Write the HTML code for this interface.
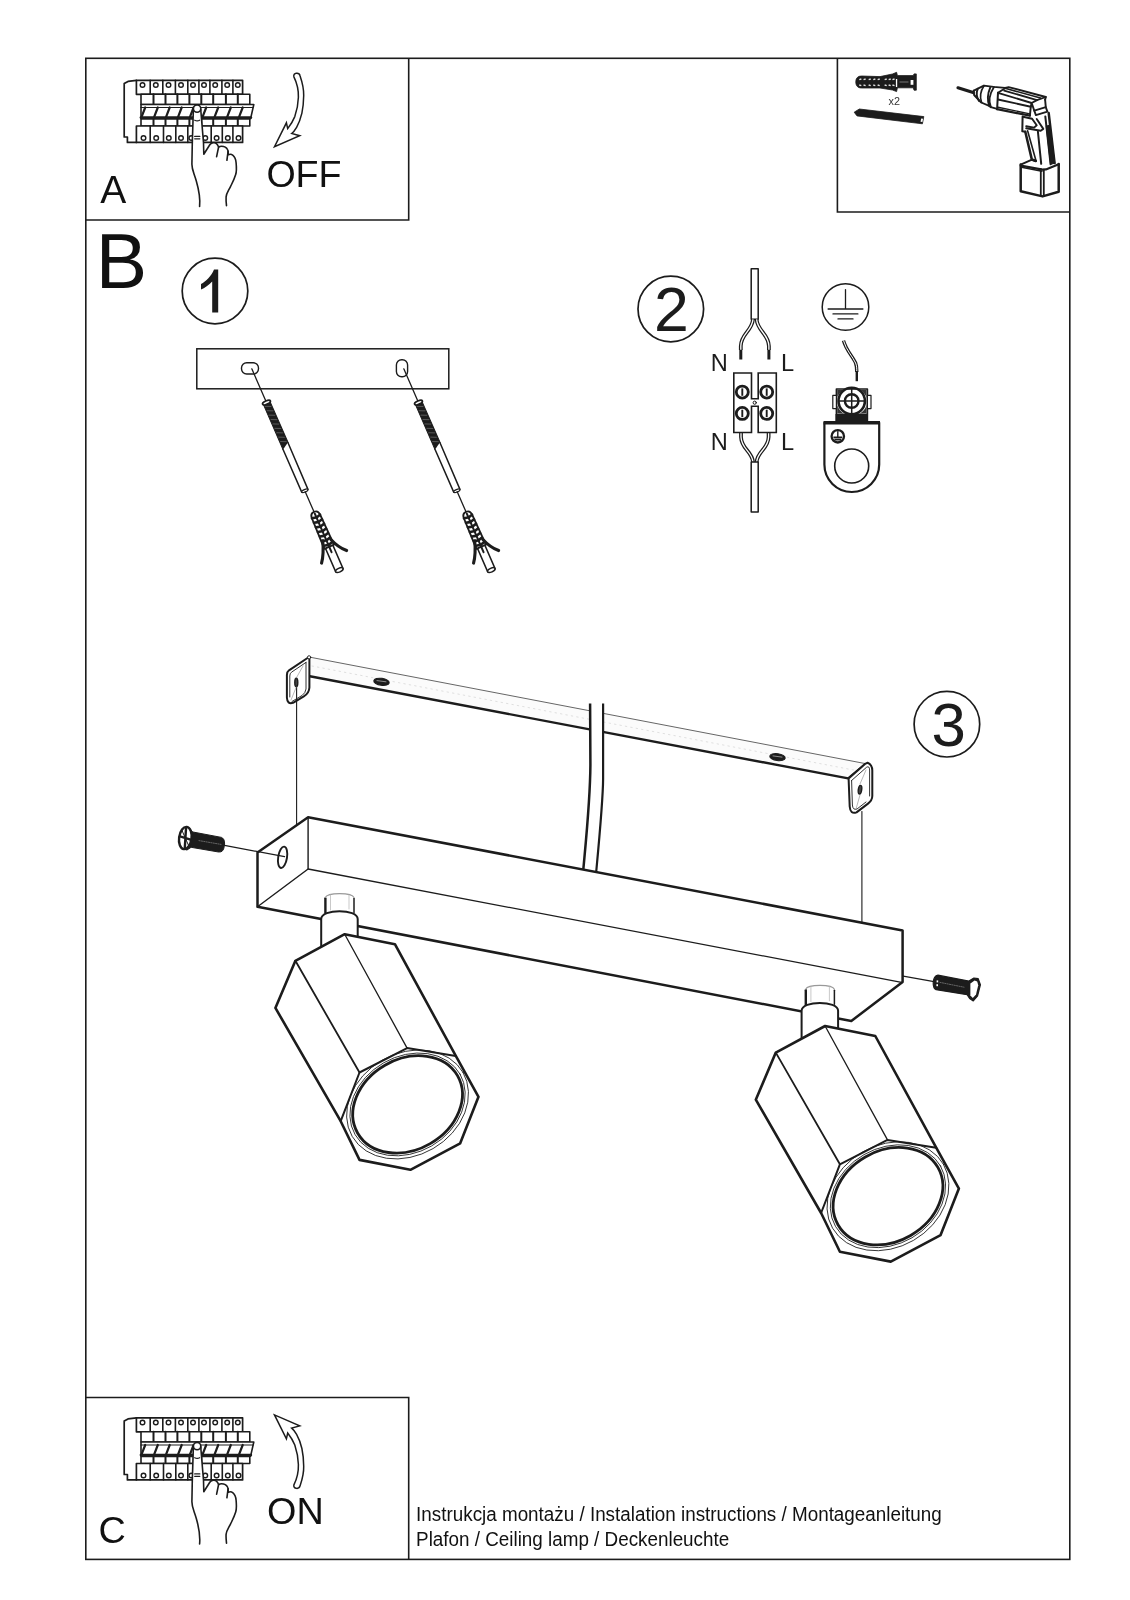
<!DOCTYPE html>
<html><head><meta charset="utf-8"><title>Instrukcja montażu</title>
<style>html,body{margin:0;padding:0;background:#fff}svg{display:block}</style></head>
<body>
<svg width="1130" height="1600" viewBox="0 0 1130 1600">
<rect width="1130" height="1600" fill="#fff"/>
<defs>
<g id="brk" fill="none" stroke="#1c1c1c" stroke-width="1.5" stroke-linejoin="round" stroke-linecap="round">
<path d="M136.4,80.3 L128,81.4 L124.2,83.6 L124.2,137 L127.4,137 L127.4,142.4 L136.4,142.4" stroke-width="1.7"/>
<rect x="136.4" y="80.3" width="106.2" height="14" fill="#fff" stroke-width="1.7"/>
<line x1="150.2" y1="80.3" x2="150.2" y2="94.3" stroke-width="1.6"/>
<line x1="162.8" y1="80.3" x2="162.8" y2="94.3" stroke-width="1.6"/>
<line x1="175.4" y1="80.3" x2="175.4" y2="94.3" stroke-width="1.6"/>
<line x1="187.8" y1="80.3" x2="187.8" y2="94.3" stroke-width="1.6"/>
<line x1="198.9" y1="80.3" x2="198.9" y2="94.3" stroke-width="1.6"/>
<line x1="209.9" y1="80.3" x2="209.9" y2="94.3" stroke-width="1.6"/>
<line x1="221.9" y1="80.3" x2="221.9" y2="94.3" stroke-width="1.6"/>
<line x1="232.9" y1="80.3" x2="232.9" y2="94.3" stroke-width="1.6"/>
<circle cx="142.5" cy="85" r="2.3" stroke-width="1.4"/>
<circle cx="155.8" cy="85" r="2.3" stroke-width="1.4"/>
<circle cx="168.5" cy="85" r="2.3" stroke-width="1.4"/>
<circle cx="181.0" cy="85" r="2.3" stroke-width="1.4"/>
<circle cx="193.0" cy="85" r="2.3" stroke-width="1.4"/>
<circle cx="204.0" cy="85" r="2.3" stroke-width="1.4"/>
<circle cx="215.2" cy="85" r="2.3" stroke-width="1.4"/>
<circle cx="227.2" cy="85" r="2.3" stroke-width="1.4"/>
<circle cx="237.8" cy="85" r="2.3" stroke-width="1.4"/>
<rect x="141" y="94.3" width="108.8" height="10.2" fill="#fff" stroke-width="1.6"/>
<line x1="153.5" y1="94.3" x2="153.5" y2="104.5" stroke-width="2"/>
<line x1="165.5" y1="94.3" x2="165.5" y2="104.5" stroke-width="2"/>
<line x1="177.4" y1="94.3" x2="177.4" y2="104.5" stroke-width="2"/>
<line x1="189.4" y1="94.3" x2="189.4" y2="104.5" stroke-width="2"/>
<line x1="201.3" y1="94.3" x2="201.3" y2="104.5" stroke-width="2"/>
<line x1="213.2" y1="94.3" x2="213.2" y2="104.5" stroke-width="2"/>
<line x1="225.9" y1="94.3" x2="225.9" y2="104.5" stroke-width="2"/>
<line x1="237.8" y1="94.3" x2="237.8" y2="104.5" stroke-width="2"/>
<path d="M141,104.5 L253.8,104.5 L250.6,118.6 L141,118.6 Z" fill="#fff" stroke-width="1.6"/>
<line x1="141" y1="107.5" x2="253" y2="107.5" stroke-width="1.2"/>
<line x1="145.2" y1="107.5" x2="141.6" y2="116.8" stroke-width="2.2"/>
<line x1="157.8" y1="107.5" x2="154.2" y2="116.8" stroke-width="2.2"/>
<line x1="169.7" y1="107.5" x2="166.1" y2="116.8" stroke-width="2.2"/>
<line x1="181.7" y1="107.5" x2="178.1" y2="116.8" stroke-width="2.2"/>
<line x1="193.6" y1="107.5" x2="190.0" y2="116.8" stroke-width="2.2"/>
<line x1="206.2" y1="107.5" x2="202.6" y2="116.8" stroke-width="2.2"/>
<line x1="218.2" y1="107.5" x2="214.6" y2="116.8" stroke-width="2.2"/>
<line x1="230.8" y1="107.5" x2="227.2" y2="116.8" stroke-width="2.2"/>
<line x1="242.7" y1="107.5" x2="239.1" y2="116.8" stroke-width="2.2"/>
<line x1="141" y1="117.6" x2="250.8" y2="117.6" stroke-width="2.8"/>
<rect x="141" y="119" width="108.8" height="7" fill="#fff" stroke-width="1.6"/>
<line x1="153.5" y1="119" x2="153.5" y2="126" stroke-width="2"/>
<line x1="165.5" y1="119" x2="165.5" y2="126" stroke-width="2"/>
<line x1="177.4" y1="119" x2="177.4" y2="126" stroke-width="2"/>
<line x1="189.4" y1="119" x2="189.4" y2="126" stroke-width="2"/>
<line x1="201.3" y1="119" x2="201.3" y2="126" stroke-width="2"/>
<line x1="213.2" y1="119" x2="213.2" y2="126" stroke-width="2"/>
<line x1="225.9" y1="119" x2="225.9" y2="126" stroke-width="2"/>
<line x1="237.8" y1="119" x2="237.8" y2="126" stroke-width="2"/>
<rect x="136.4" y="126" width="106.2" height="16.4" fill="#fff" stroke-width="1.7"/>
<line x1="150.2" y1="126" x2="150.2" y2="142.4" stroke-width="1.6"/>
<line x1="163.5" y1="126" x2="163.5" y2="142.4" stroke-width="1.6"/>
<line x1="175.8" y1="126" x2="175.8" y2="142.4" stroke-width="1.6"/>
<line x1="187.8" y1="126" x2="187.8" y2="142.4" stroke-width="1.6"/>
<line x1="200.0" y1="126" x2="200.0" y2="142.4" stroke-width="1.6"/>
<line x1="211.2" y1="126" x2="211.2" y2="142.4" stroke-width="1.6"/>
<line x1="222.3" y1="126" x2="222.3" y2="142.4" stroke-width="1.6"/>
<line x1="232.9" y1="126" x2="232.9" y2="142.4" stroke-width="1.6"/>
<circle cx="143.5" cy="138" r="2.3" stroke-width="1.4"/>
<circle cx="156.2" cy="138" r="2.3" stroke-width="1.4"/>
<circle cx="168.8" cy="138" r="2.3" stroke-width="1.4"/>
<circle cx="181.0" cy="138" r="2.3" stroke-width="1.4"/>
<circle cx="191.3" cy="138" r="2.3" stroke-width="1.4"/>
<circle cx="205.3" cy="138" r="2.3" stroke-width="1.4"/>
<circle cx="216.6" cy="138" r="2.3" stroke-width="1.4"/>
<circle cx="227.8" cy="138" r="2.3" stroke-width="1.4"/>
<circle cx="238.5" cy="138" r="2.3" stroke-width="1.4"/>
<path d="M199.6,206.5 C200.3,199 199.5,192 196.3,181 C194,173 191.9,170 191.9,164.3 L192.3,142.8 L193.3,111.5 A3.9,3.9 0 1 1 200.9,111.5 L203.5,142.8 L203.8,154.3 L209.8,144.8 C211.5,142.3 216.4,141.3 218.6,147 C220.5,145.8 226.8,145.3 228.1,151.2 L228.2,154.8 C231,153.2 235.5,155 236.1,162.7 C236.6,168 236.5,172 235.7,174.6 C234,180 232,183.5 230.5,186.6 C228,191.5 226.3,193.5 226.1,196.9 C225.9,200 226.2,203 226.5,205.7 Z" fill="#fff" stroke="none"/>
<path d="M199.6,206.5 C200.3,199 199.5,192 196.3,181 C194,173 191.9,170 191.9,164.3 L192.3,142.8 L193.3,111.5 A3.9,3.9 0 1 1 200.9,111.5 L203.5,142.8 L203.8,154.3 L209.8,144.8 C211.5,142.3 216.4,141.3 218.6,147 C220.5,145.8 226.8,145.3 228.1,151.2 L228.2,154.8 C231,153.2 235.5,155 236.1,162.7 C236.6,168 236.5,172 235.7,174.6 C234,180 232,183.5 230.5,186.6 C228,191.5 226.3,193.5 226.1,196.9 C225.9,200 226.2,203 226.5,205.7" stroke-width="1.6"/>
<path d="M218.6,147 L216.6,156.7 M228.1,151.2 L226.9,160.3" stroke-width="1.6"/>
<circle cx="197.1" cy="108.6" r="3.7" fill="#fff" stroke-width="1.6"/>
<path d="M194.7,120.2 Q197.2,121.6 199.6,120.2" stroke-width="1.2"/>
<path d="M194.7,136.4 L199.8,136.4 M194.7,138.8 L199.8,138.8" stroke-width="1.3"/>
</g>
<path id="arw" d="M293.9,76.8 C292.8,72.6 299.2,71.8 300.1,75.9 C302.5,83 303.9,89 303.7,95.4 C303.6,102 303,108 301.9,113.1 C300.5,119 298.5,124 296.6,127.3 C295,130 293.5,132 291.7,133.5 L299.7,135.7 L274.5,146.7 L286.4,122.8 L287.7,128.6 C290.5,125 293,121 294.8,116.6 C297,110 298.2,104 298.4,97.2 C298.6,90 297,83 293.9,76.8 Z" fill="#fff" stroke="#1c1c1c" stroke-width="1.5" stroke-linejoin="miter"/>
<filter id="noaa" x="-5%" y="-20%" width="110%" height="140%"><feOffset dx="0" dy="0"/></filter>
</defs>
<g fill="none" stroke="#1c1c1c" stroke-width="1.6">
<rect x="85.8" y="58.3" width="984" height="1501.1"/>
<path d="M408.7,58.3 L408.7,220 L85.8,220"/>
<path d="M837.4,58.3 L837.4,212 L1069.8,212"/>
<path d="M85.8,1397.5 L408.7,1397.5 L408.7,1559.4"/>
</g>
<use href="#brk"/>
<use href="#brk" transform="translate(0,1337.5)"/>
<use href="#arw"/>
<use href="#arw" transform="translate(0,1561.6) scale(1,-1)"/>
<g fill="#111" font-family="'Liberation Sans',sans-serif">
<text filter="url(#noaa)" x="100.3" y="203.1" font-size="39">A</text>
<text filter="url(#noaa)" x="266.4" y="187.4" font-size="37.6">OFF</text>
<text filter="url(#noaa)" x="98.5" y="1543.1" font-size="37.8">C</text>
<text filter="url(#noaa)" x="267" y="1524.4" font-size="37.8">ON</text>
<text filter="url(#noaa)" x="95.8" y="287.9" font-size="77">B</text>
<text filter="url(#noaa)" transform="translate(416.1,1520.7) scale(1,1.04)" font-size="18.84">Instrukcja montażu / Instalation instructions / Montageanleitung</text>
<text filter="url(#noaa)" transform="translate(416.1,1545.9) scale(1,1.04)" font-size="18.84">Plafon / Ceiling lamp / Deckenleuchte</text>
</g>
<g id="tools">
<path d="M855.8,81.9 C855.8,78 858,76 861.5,76 L880,76.6 L892.5,74 L896.6,72.3 L897.4,75.6 L913.3,75.6 L914,73.9 L916.3,73.9 L916.3,90.2 L914,90.2 L913.3,87.8 L897.4,87.8 L896.6,91.6 L892.5,90 L880,88 L861.5,88 C858,88 855.8,86 855.8,81.9 Z" fill="#1c1c1c" stroke="#1c1c1c" stroke-width="0.8" stroke-linejoin="round"/>
<rect x="859.2" y="78.6" width="2.2" height="1.5" fill="#fff" opacity="0.85" transform="rotate(-18 860.2 79.3)"/>
<rect x="859.2" y="84.5" width="2.2" height="1.5" fill="#fff" opacity="0.85" transform="rotate(18 860.2 85.2)"/>
<rect x="863.5" y="78.6" width="2.2" height="1.5" fill="#fff" opacity="0.85" transform="rotate(-18 864.5 79.3)"/>
<rect x="863.5" y="84.5" width="2.2" height="1.5" fill="#fff" opacity="0.85" transform="rotate(18 864.5 85.2)"/>
<rect x="868.6" y="78.6" width="2.2" height="1.5" fill="#fff" opacity="0.85" transform="rotate(-18 869.6 79.3)"/>
<rect x="868.6" y="84.5" width="2.2" height="1.5" fill="#fff" opacity="0.85" transform="rotate(18 869.6 85.2)"/>
<rect x="873.2" y="78.6" width="2.2" height="1.5" fill="#fff" opacity="0.85" transform="rotate(-18 874.2 79.3)"/>
<rect x="873.2" y="84.5" width="2.2" height="1.5" fill="#fff" opacity="0.85" transform="rotate(18 874.2 85.2)"/>
<rect x="877.6" y="78.6" width="2.2" height="1.5" fill="#fff" opacity="0.85" transform="rotate(-18 878.6 79.3)"/>
<rect x="877.6" y="84.5" width="2.2" height="1.5" fill="#fff" opacity="0.85" transform="rotate(18 878.6 85.2)"/>
<rect x="884.6" y="78.6" width="2.2" height="1.5" fill="#fff" opacity="0.85" transform="rotate(-18 885.6 79.3)"/>
<rect x="884.6" y="84.5" width="2.2" height="1.5" fill="#fff" opacity="0.85" transform="rotate(18 885.6 85.2)"/>
<rect x="888.6" y="78.6" width="2.2" height="1.5" fill="#fff" opacity="0.85" transform="rotate(-18 889.6 79.3)"/>
<rect x="888.6" y="84.5" width="2.2" height="1.5" fill="#fff" opacity="0.85" transform="rotate(18 889.6 85.2)"/>
<rect x="892.4" y="78.6" width="2.2" height="1.5" fill="#fff" opacity="0.85" transform="rotate(-18 893.4 79.3)"/>
<rect x="892.4" y="84.5" width="2.2" height="1.5" fill="#fff" opacity="0.85" transform="rotate(18 893.4 85.2)"/>
<rect x="895.9" y="79" width="1.3" height="8" fill="#fff"/>
<rect x="910.6" y="80" width="2.8" height="4.8" fill="#fff"/>
<rect x="899.5" y="81.2" width="9" height="1.6" fill="#555"/>
<path d="M854.2,112.2 L859.3,109 L923.8,116.6 L922.4,123.8 L857,115.9 Z" fill="#1c1c1c" stroke="#1c1c1c" stroke-width="0.8" stroke-linejoin="round"/>
<path d="M921.2,118.4 L923.1,118.7 L922.4,122.1 L920.5,121.8 Z" fill="#fff"/>
<text filter="url(#noaa)" x="888.6" y="105.4" font-size="10.8" fill="#333" font-family="'Liberation Sans',sans-serif">x2</text>
<path d="M958.0,87.8 L973.1,92.5" fill="none" stroke="#1c1c1c" stroke-width="3.2" stroke-linejoin="round" stroke-linecap="round"/>
<path d="M973.8,90.6 L983.9,85.6 L993.6,86.9 L1005.1,87.9 L1008.6,87.1 L1045.8,97.0 L1045.1,99.7" fill="none" stroke="#1c1c1c" stroke-width="1.9" stroke-linejoin="round" stroke-linecap="round"/>
<path d="M973.8,90.6 L974.1,95.0 L981.2,102.5 L989.2,105.9 L990.9,107.2 L997.1,108.9" fill="none" stroke="#1c1c1c" stroke-width="1.9" stroke-linejoin="round" stroke-linecap="round"/>
<path d="M977.8,88.7 Q975.2,95.0 979.0,101.0" fill="none" stroke="#1c1c1c" stroke-width="1.9" stroke-linecap="round"/>
<path d="M990.2,87.7 Q986.1,97.2 989.3,105.9" fill="none" stroke="#1c1c1c" stroke-width="1.9" stroke-linecap="round"/>
<path d="M984.0,85.7 Q978.5,94.1 981.6,102.5" fill="none" stroke="#1c1c1c" stroke-width="1.6" stroke-linecap="round"/>
<path d="M994.0,87.1 Q987.0,98.1 990.9,107.2" fill="none" stroke="#1c1c1c" stroke-width="1.8" stroke-linecap="round"/>
<path d="M998.0,92.8 L997.1,109.2" fill="none" stroke="#1c1c1c" stroke-width="2.0" stroke-linejoin="round" stroke-linecap="round"/>
<path d="M998.0,92.8 L1005.1,88.2" fill="none" stroke="#1c1c1c" stroke-width="1.8" stroke-linejoin="round" stroke-linecap="round"/>
<path d="M1005.1,88.2 L1040.5,98.1" fill="none" stroke="#1c1c1c" stroke-width="1.6" stroke-linejoin="round" stroke-linecap="round"/>
<path d="M1004.2,90.6 L1037.0,100.1 L1045.8,97.0" fill="none" stroke="#1c1c1c" stroke-width="1.8" stroke-linejoin="round" stroke-linecap="round"/>
<path d="M998.0,92.8 L1031.6,103.0 L1037.0,100.1" fill="none" stroke="#1c1c1c" stroke-width="1.9" stroke-linejoin="round" stroke-linecap="round"/>
<path d="M998.0,99.5 L1030.8,106.7" fill="none" stroke="#1c1c1c" stroke-width="1.9" stroke-linejoin="round" stroke-linecap="round"/>
<path d="M997.1,109.2 L1029.9,115.6" fill="none" stroke="#1c1c1c" stroke-width="2.2" stroke-linejoin="round" stroke-linecap="round"/>
<path d="M998.0,107.2 L1029.9,113.9" fill="none" stroke="#1c1c1c" stroke-width="1.4" stroke-linejoin="round" stroke-linecap="round"/>
<path d="M1031.6,103.0 L1030.8,106.7 L1029.9,115.6" fill="none" stroke="#1c1c1c" stroke-width="1.9" stroke-linejoin="round" stroke-linecap="round"/>
<path d="M1034.3,110.7 L1045.8,107.2 L1045.1,99.7" fill="none" stroke="#1c1c1c" stroke-width="1.9" stroke-linejoin="round" stroke-linecap="round"/>
<path d="M1032.1,104.3 L1034.3,110.7 L1035.9,115.1 L1047.4,111.6 L1045.8,107.2" fill="none" stroke="#1c1c1c" stroke-width="1.9" stroke-linejoin="round" stroke-linecap="round"/>
<path d="M1022.6,116.5 L1022.3,131.2 L1025.3,131.8" fill="none" stroke="#1c1c1c" stroke-width="2.0" stroke-linejoin="round" stroke-linecap="round"/>
<path d="M1025.3,131.8 L1031.8,159.4 L1035.8,161.0" fill="none" stroke="#1c1c1c" stroke-width="2.5" stroke-linejoin="round" stroke-linecap="round"/>
<path d="M1023.0,116.7 L1032.1,118.7 L1036.7,125.3 L1034.1,127.6 L1026.2,126.2" fill="none" stroke="#1c1c1c" stroke-width="1.9" stroke-linejoin="round" stroke-linecap="round"/>
<path d="M1026.2,128.3 L1040.7,130.8 L1043.3,128.9 L1036.7,119.0" fill="none" stroke="#1c1c1c" stroke-width="1.9" stroke-linejoin="round" stroke-linecap="round"/>
<path d="M1027.6,130.8 L1036.0,160.7" fill="none" stroke="#1c1c1c" stroke-width="1.6" stroke-linejoin="round" stroke-linecap="round"/>
<path d="M1037.9,131.5 L1041.2,163.8" fill="none" stroke="#1c1c1c" stroke-width="2.0" stroke-linejoin="round" stroke-linecap="round"/>
<path d="M1045.3,116.4 L1050.6,164.3" fill="none" stroke="#1c1c1c" stroke-width="2.0" stroke-linejoin="round" stroke-linecap="round"/>
<path d="M1048.7,113.1 L1054.6,163.1" fill="none" stroke="#1c1c1c" stroke-width="2.5" stroke-linejoin="round" stroke-linecap="round"/>
<path d="M1046.3,126.2 L1049.9,125.3 L1054.6,163.1 L1050.6,164.3 Z" fill="#1c1c1c" stroke="#1c1c1c" stroke-width="1.2" stroke-linejoin="round" stroke-linecap="round"/>
<path d="M1020.7,164.6 L1020.7,191.2 L1042.6,196.4 L1058.7,191.8 L1058.7,164.0" fill="none" stroke="#1c1c1c" stroke-width="2.5" stroke-linejoin="round" stroke-linecap="round"/>
<path d="M1020.7,164.6 L1031.4,159.8 L1035.8,161.0" fill="none" stroke="#1c1c1c" stroke-width="2.0" stroke-linejoin="round" stroke-linecap="round"/>
<path d="M1020.7,165.6 L1042.6,169.7 L1045.9,169.4 L1058.7,164.3" fill="none" stroke="#1c1c1c" stroke-width="2.2" stroke-linejoin="round" stroke-linecap="round"/>
<path d="M1021.6,167.2 L1042.0,171.2" fill="none" stroke="#1c1c1c" stroke-width="1.4" stroke-linejoin="round" stroke-linecap="round"/>
<path d="M1040.8,168.9 L1040.8,195.9" fill="none" stroke="#1c1c1c" stroke-width="1.8" stroke-linejoin="round" stroke-linecap="round"/>
<path d="M1043.8,169.7 L1043.8,196.1" fill="none" stroke="#1c1c1c" stroke-width="1.8" stroke-linejoin="round" stroke-linecap="round"/>
</g>
<g id="step1">
<circle cx="215" cy="291" r="32.8" fill="none" stroke="#1c1c1c" stroke-width="1.7"/>
<path d="M218.2,269.4 L218.2,312.6 L212.2,312.6 L212.2,281.5 C209,285 204.5,288 201,289.6 L201,284 C206,281.2 211.3,276 214,269.4 Z" fill="#1c1c1c"/>
<rect x="196.8" y="348.8" width="252" height="40" fill="none" stroke="#1c1c1c" stroke-width="1.5"/>
<rect x="241.5" y="362.8" width="17" height="11.2" rx="5.2" fill="none" stroke="#1c1c1c" stroke-width="1.4"/>
<rect x="396.4" y="359.8" width="11.2" height="17" rx="5.2" fill="none" stroke="#1c1c1c" stroke-width="1.4"/>
<g id="scr1" transform="translate(251.8,368.8) rotate(66.5)" fill="none" stroke="#1c1c1c" stroke-width="1.2" stroke-linecap="round" stroke-linejoin="round">
<line x1="0" y1="0" x2="36" y2="0" stroke-width="1.3"/>
<path d="M37,-3.6 L82,-3.9 L86.5,3.6 L37,3.6 Z" fill="#1c1c1c" stroke-width="1"/>
<line x1="42.2" y1="-2.6" x2="39.8" y2="2.6" stroke="#777" stroke-width="0.6"/>
<line x1="47.0" y1="-2.6" x2="44.6" y2="2.6" stroke="#777" stroke-width="0.6"/>
<line x1="51.8" y1="-2.6" x2="49.4" y2="2.6" stroke="#777" stroke-width="0.6"/>
<line x1="56.6" y1="-2.6" x2="54.2" y2="2.6" stroke="#777" stroke-width="0.6"/>
<line x1="61.4" y1="-2.6" x2="59.0" y2="2.6" stroke="#777" stroke-width="0.6"/>
<line x1="66.2" y1="-2.6" x2="63.8" y2="2.6" stroke="#777" stroke-width="0.6"/>
<line x1="71.0" y1="-2.6" x2="68.6" y2="2.6" stroke="#777" stroke-width="0.6"/>
<line x1="75.8" y1="-2.6" x2="73.4" y2="2.6" stroke="#777" stroke-width="0.6"/>
<line x1="80.6" y1="-2.6" x2="78.2" y2="2.6" stroke="#777" stroke-width="0.6"/>
<ellipse cx="36.8" cy="0" rx="1.7" ry="4.2" fill="#fff" stroke-width="1.8"/>
<path d="M82,-3.7 L133,-3.4 L133,3.4 L86.5,3.5" fill="#fff" stroke-width="1.5"/>
<ellipse cx="133" cy="0" rx="1.3" ry="3.4" fill="#fff" stroke-width="1.2"/>
<line x1="134" y1="0" x2="156" y2="0" stroke-width="1.3"/>
<path d="M180,-4 L219.5,-4 L219.5,4 L180,4 Z" fill="#fff" stroke-width="1.6"/>
<ellipse cx="219.5" cy="0" rx="1.9" ry="4" fill="#fff" stroke-width="1.5"/>
<path d="M156,0 C156,-3 158,-4.4 161,-4.5 L194,-5.2 L194,5.2 L161,4.5 C158,4.4 156,3 156,0 Z" fill="#fff" stroke-width="1.9"/>
<line x1="158" y1="0" x2="200" y2="0" stroke-width="2"/>
<line x1="161.0" y1="-4.4" x2="162.0" y2="-0.5" stroke-width="2.6"/>
<line x1="161.0" y1="4.4" x2="162.0" y2="0.5" stroke-width="2.6"/>
<line x1="166.0" y1="-4.4" x2="167.0" y2="-0.5" stroke-width="2.6"/>
<line x1="166.0" y1="4.4" x2="167.0" y2="0.5" stroke-width="2.6"/>
<line x1="171.0" y1="-4.4" x2="172.0" y2="-0.5" stroke-width="2.6"/>
<line x1="171.0" y1="4.4" x2="172.0" y2="0.5" stroke-width="2.6"/>
<line x1="176.0" y1="-4.4" x2="177.0" y2="-0.5" stroke-width="2.6"/>
<line x1="176.0" y1="4.4" x2="177.0" y2="0.5" stroke-width="2.6"/>
<line x1="181.0" y1="-4.4" x2="182.0" y2="-0.5" stroke-width="2.6"/>
<line x1="181.0" y1="4.4" x2="182.0" y2="0.5" stroke-width="2.6"/>
<line x1="186.0" y1="-4.4" x2="187.0" y2="-0.5" stroke-width="2.6"/>
<line x1="186.0" y1="4.4" x2="187.0" y2="0.5" stroke-width="2.6"/>
<line x1="191.0" y1="-4.4" x2="192.0" y2="-0.5" stroke-width="2.6"/>
<line x1="191.0" y1="4.4" x2="192.0" y2="0.5" stroke-width="2.6"/>
<path d="M186,3.5 C192,5.5 199,8 206,13.5" stroke-width="3.1"/>
<path d="M188,-4.5 C194,-6.5 199,-9 204.5,-14.5" stroke-width="3.1"/>
</g>
<use href="#scr1" transform="translate(152,0)"/>
</g>
<g id="step2" fill="none" stroke="#1c1c1c" stroke-linecap="round" stroke-linejoin="round">
<circle cx="670.8" cy="309" r="32.8" stroke-width="1.7"/>
<text filter="url(#noaa)" x="654.1" y="330.5" font-size="62.6" fill="#1c1c1c" stroke="none" font-family="'Liberation Sans',sans-serif">2</text>
<rect x="751.2" y="268.8" width="7" height="50.4" stroke-width="1.5" fill="#fff"/>
<path d="M753,319.4 C752,331 741,334 740.8,346 L740.8,350" stroke-width="3.8" stroke-linecap="butt"/>
<path d="M753,319.4 C752,331 741,334 740.8,346 L740.8,350" stroke="#fff" stroke-width="1.3" stroke-linecap="butt"/>
<path d="M756.6,319.4 C757.5,331 768.6,334 768.9,346 L768.9,350" stroke-width="3.8" stroke-linecap="butt"/>
<path d="M756.6,319.4 C757.5,331 768.6,334 768.9,346 L768.9,350" stroke="#fff" stroke-width="1.3" stroke-linecap="butt"/>
<path d="M740.8,349.8 L740.8,359.5 M768.9,349.8 L768.9,359.5" stroke-width="3" stroke-linecap="butt"/>
<g fill="#1c1c1c" stroke="none" font-family="'Liberation Sans',sans-serif" font-size="23.6">
<text filter="url(#noaa)" x="710.7" y="371.1">N</text><text filter="url(#noaa)" x="780.9" y="371.1">L</text>
<text filter="url(#noaa)" x="710.7" y="450.3">N</text><text filter="url(#noaa)" x="780.9" y="450.3">L</text>
</g>
<path d="M741,432.6 L741,437 C741.3,449 752,451 753,462" stroke-width="3.8" stroke-linecap="butt"/>
<path d="M741,432.6 L741,437 C741.3,449 752,451 753,462" stroke="#fff" stroke-width="1.3" stroke-linecap="butt"/>
<path d="M768.6,432.6 L768.6,437 C768.3,449 757.5,451 756.6,462" stroke-width="3.8" stroke-linecap="butt"/>
<path d="M768.6,432.6 L768.6,437 C768.3,449 757.5,451 756.6,462" stroke="#fff" stroke-width="1.3" stroke-linecap="butt"/>
<rect x="751.2" y="462" width="7" height="50" stroke-width="1.5" fill="#fff"/>
<path d="M733.8,373 L751.5,373 L751.5,398.8 L758.2,398.8 L758.2,373 L776.3,373 L776.3,432.5 L758.2,432.5 L758.2,406.3 L751.5,406.3 L751.5,432.5 L733.8,432.5 Z" stroke-width="1.6" fill="#fff" stroke-linejoin="miter"/>
<circle cx="754.7" cy="402.7" r="1.6" stroke-width="1"/>
<circle cx="742.3" cy="392.1" r="6" stroke-width="2.8"/>
<line x1="742.3" y1="388.4" x2="742.3" y2="395.8" stroke-width="1.9" stroke-linecap="butt"/>
<circle cx="742.3" cy="413.4" r="6" stroke-width="2.8"/>
<line x1="742.3" y1="409.7" x2="742.3" y2="417.1" stroke-width="1.9" stroke-linecap="butt"/>
<circle cx="766.7" cy="392.1" r="6" stroke-width="2.8"/>
<line x1="766.7" y1="388.4" x2="766.7" y2="395.8" stroke-width="1.9" stroke-linecap="butt"/>
<circle cx="766.7" cy="413.4" r="6" stroke-width="2.8"/>
<line x1="766.7" y1="409.7" x2="766.7" y2="417.1" stroke-width="1.9" stroke-linecap="butt"/>
<circle cx="845.5" cy="307" r="23.3" stroke-width="1.5"/>
<path d="M845.5,289.6 L845.5,309 M828.1,309 L862.9,309 M833,313.9 L857.9,313.9 M838,318.9 L853,318.9" stroke-width="1.3"/>
<path d="M843.5,340.6 C846,350 853,357 855.6,363 C856.8,366 856.8,368 856.8,372" stroke-width="3.4" stroke-linecap="butt"/>
<path d="M843.5,340.6 C846,350 853,357 855.6,363 C856.8,366 856.8,368 856.8,372" stroke="#fff" stroke-width="1.0" stroke-linecap="butt"/>
<path d="M856.8,371 L856.8,381.2" stroke-width="2.4" stroke-linecap="butt"/>
<rect x="836.4" y="389" width="31" height="33" stroke-width="1.6" fill="#fff"/>
<rect x="832.8" y="395.3" width="3.6" height="13.3" stroke-width="1.2" fill="#fff"/>
<rect x="867.4" y="395.3" width="3.6" height="13.3" stroke-width="1.2" fill="#fff"/>
<rect x="836.4" y="414" width="31" height="8.5" fill="#1c1c1c" stroke-width="1"/>
<path d="M837.2,389.8 L843.5,389.8 Q838.5,393 837.2,398 Z M866.6,389.8 L860,389.8 Q865,393 866.6,398 Z M837.2,413 L837.2,405 Q839,410.5 843.5,413.4 Z M866.6,413 L866.6,405 Q865,410.5 860,413.4 Z" fill="#333" stroke="none"/>
<circle cx="851.7" cy="401" r="13.2" stroke-width="2.6"/>
<circle cx="851.7" cy="401" r="6.8" stroke-width="2.4"/>
<path d="M851.7,388 L851.7,414 M838.7,401 L864.7,401" stroke-width="1.5"/>
<path d="M824.4,422.7 L824.4,464.6 A27.4,27.4 0 0 0 879.2,464.6 L879.2,422.7" stroke-width="2.2" fill="#fff"/>
<path d="M823.6,422.7 L880,422.7" stroke-width="3.6" stroke-linecap="butt"/>
<rect x="836.4" y="416" width="31" height="6" fill="#1c1c1c" stroke="none"/>
<circle cx="851.7" cy="466" r="17" stroke-width="1.6"/>
<circle cx="837.8" cy="436.3" r="6.2" stroke-width="2.3"/>
<path d="M837.8,431.6 L837.8,437.2" stroke-width="1.4"/>
<path d="M833.4,437.4 L842.2,437.4 M834.4,439.6 L841.2,439.6" stroke-width="1.8" stroke-linecap="butt"/>
</g>
<g id="step3" fill="none" stroke="#1c1c1c" stroke-linecap="round" stroke-linejoin="round">
<circle cx="946.9" cy="724.2" r="32.8" stroke-width="1.7"/>
<text filter="url(#noaa)" x="931.4" y="745.8" font-size="61.7" fill="#1c1c1c" stroke="none" font-family="'Liberation Sans',sans-serif">3</text>
<path d="M309,657 L866,763.6 L848,778.3 L309.8,676.3 Z" fill="#fbfbfb" stroke="none"/>
<path d="M309,657 L865.9,763.7" stroke="#555" stroke-width="0.9"/>
<path d="M312,666 L856,770.5" stroke="#d8d8d8" stroke-width="0.8" stroke-dasharray="1.5,4"/>
<path d="M309.8,676.3 L848.2,778.4 L865.4,764.2" stroke-width="2.4"/>
<ellipse cx="381.5" cy="681.8" rx="7.8" ry="3.5" fill="#1c1c1c" stroke-width="1" transform="rotate(8 381.5 681.8)"/>
<ellipse cx="777.5" cy="757.1" rx="7.8" ry="3.5" fill="#1c1c1c" stroke-width="1" transform="rotate(8 777.5 757.1)"/>
<path d="M377,680.6 L386,681.8" stroke="#aaa" stroke-width="0.8"/>
<path d="M773,755.9 L782,757.1" stroke="#aaa" stroke-width="0.8"/>
<path d="M309,657 L289,670.3 Q286.9,671.8 286.9,675 L286.9,697.5 Q287.2,704.6 293,702.8 L303.8,696.4 Q309.2,693 309.4,687.5 L309.4,658" stroke-width="2.0" fill="#fff"/>
<path d="M306,662.4 L291.5,672.2 Q289.8,673.4 289.8,676 L289.8,697" stroke-width="0.9"/>
<path d="M306,662.4 L306,689 Q305.5,693 302,695.5 L292,701.5" stroke-width="0.9"/>
<ellipse cx="296.3" cy="682.5" rx="1.5" ry="4.2" stroke-width="1.4" fill="#444"/>
<path d="M296.6,686 L296.6,824.6" stroke-width="1.1"/>
<path d="M296.3,678 L303,666 M296.3,687 L291,700" stroke="#888" stroke-width="0.6"/>
<circle cx="309.1" cy="657.3" r="1.6" fill="#fff" stroke-width="0.9"/>
<path d="M848.6,778.5 L849.7,806.5 Q850.3,814.6 856.5,812.4 L868,803.6 Q872.2,800.5 872.3,796 L872.3,770.5 Q872.2,764.5 867.6,762.8 L865.6,763.6 L848.6,778.5 Z" stroke-width="2.0" fill="#fff"/>
<path d="M851.6,780.5 L852.4,805 Q852.8,810.5 857,809 L866,802" stroke-width="0.9"/>
<path d="M851.6,780.5 L866.5,767.3 Q869.5,765.5 869.6,770 L869.6,796" stroke-width="0.9"/>
<ellipse cx="860" cy="789.7" rx="1.7" ry="4.4" stroke-width="1.4" fill="#444" transform="rotate(8 860 789.7)"/>
<path d="M860,784 L866,770 M860,795 L856,809" stroke="#888" stroke-width="0.6"/>
<path d="M861.9,811.5 L861.9,922.4" stroke-width="1.1"/>
<path d="M590.1,703.4 L590.4,765 C590.2,800 586,840 583.3,869.6 L596.2,872 C599,842 603,800 603.1,779 L603.1,703.4 Z" fill="#fff" stroke="none"/>
<path d="M590.1,703.4 L590.4,765 C590.2,800 586,840 583.3,869.6" stroke-width="2.5" stroke-linecap="butt"/>
<path d="M603.1,703.4 L603.1,779 C603,800 599,842 596.2,872" stroke-width="2.2" stroke-linecap="butt"/>
<path d="M308.1,817.2 L257.5,852.6 L257.5,906.8 L308.1,869 Z" fill="#fff" stroke="none"/>
<path d="M308.1,817.2 L902.6,930.4 L902.6,982 L851.3,1021 L257.5,906.8 L308.1,869 Z" fill="#fff" stroke="none"/>
<path d="M308.1,817.2 L308.1,869 L257.5,906.8" stroke-width="1.4"/>
<path d="M308.1,869 L901.5,982.3" stroke-width="1.3"/>
<path d="M257.5,906.8 L257.5,852.6 L308.1,817.2 L902.6,930.4 L902.6,982 L851.3,1021 L257.5,906.8" stroke-width="2.5"/>
<ellipse cx="282.6" cy="857.3" rx="4.4" ry="10.8" stroke-width="1.9" fill="#fff" transform="rotate(9 282.6 857.3)"/>
<path d="M224.5,845.4 L284.6,856.6" stroke-width="1.2"/>
<path d="M188,828 L192.9,832 L221.5,837.4 Q224.6,838.4 224.6,843 Q224.4,850.6 221,851.8 L218.6,852 L191.1,847.3 L187,850 Z" fill="#1c1c1c" stroke-width="1"/>
<path d="M199,840.6 L221,844.4" stroke="#777" stroke-width="0.8" stroke-dasharray="1.2,1.2"/>
<ellipse cx="185.3" cy="838" rx="6.2" ry="11.2" stroke-width="2.4" fill="#fff" transform="rotate(8 185.3 838)"/>
<path d="M186,828.5 L184.8,847.8 M180,836.4 L190.6,839.6" stroke-width="2.4"/>
<path d="M182,830.5 L188.8,846" stroke-width="1"/>
<path d="M903.2,976.2 L934,981.7" stroke-width="1.2"/>
<path d="M938,975.2 L968.9,981.1 L973.9,978 L978.2,978.6 L980.4,984.8 L977.6,995.9 L973.3,1000.9 L969.6,998.4 L967.1,994.7 L936.1,989.7 Q933,988.4 933.2,982.6 Q933.6,976 938,975.2 Z" fill="#1c1c1c" stroke-width="1.2"/>
<path d="M970.4,983.4 L974.6,980.6 L977.2,981.4 L978.2,985.2 L976,994.6 L972.8,998 L970.4,995.4 Z" fill="#fff" stroke="none"/>
<path d="M940,982.4 L964,987.2" stroke="#777" stroke-width="0.8" stroke-dasharray="1.2,1.2"/>
<rect x="936.6" y="980.4" width="1.6" height="2" fill="#fff" stroke="none"/><rect x="936.4" y="984.2" width="1.6" height="2" fill="#fff" stroke="none"/>
<g transform="translate(0.0,0.0)">
<path d="M325.2,897 L325.2,912 L354,912 L354,897 Z" fill="#fff" stroke="none"/>
<path d="M325.4,898.5 L325.4,912.5" stroke-width="2.4"/><path d="M354,898.5 L354,912.5" stroke-width="1.5"/>
<path d="M325.2,897.5 Q327,893.6 339.6,893.6 Q352.5,893.6 354,897.5" stroke="#999" stroke-width="1.1"/>
<path d="M330.5,895 L330.5,910 M349,895 L349,909" stroke="#bbb" stroke-width="0.8"/>
<path d="M321.2,919 C321.2,908.5 357.7,908.5 357.7,919 L357.7,936 L321.2,947 Z" fill="#fff" stroke="none"/>
<path d="M321.2,946 L321.2,919 C321.2,908.5 357.7,908.5 357.7,919 L357.7,936.5" stroke-width="2"/>
<path d="M275.4,1007.9 L295.4,960.8 L344.7,934.2 L394.9,944.2 L455.8,1055.9 L478.5,1096.8 L460.2,1143.3 L410.4,1169.8 L359.5,1159.9 L340.7,1121.2 Z" fill="#fff" stroke-width="2.6"/>
<path d="M295.4,960.8 L359.5,1072.5" stroke-width="1.8"/>
<path d="M344.7,934.2 L407.1,1048.1" stroke-width="1.3"/>
<path d="M340.7,1121.2 L359.5,1072.5 L407.1,1048.1 L455.8,1055.9" stroke-width="2.0"/>
<ellipse cx="407.6" cy="1104.4" rx="57.6" ry="45.3" transform="rotate(-30 407.6 1104.4)" stroke-width="2.8"/>
<ellipse cx="407.6" cy="1104.4" rx="60.6" ry="48" transform="rotate(-30 407.6 1104.4)" stroke-width="0.8"/>
<ellipse cx="407.6" cy="1104.4" rx="64" ry="51" transform="rotate(-30 407.6 1104.4)" stroke-width="0.8"/>
</g>
<g transform="translate(480.4,91.8)">
<path d="M325.2,897 L325.2,912 L354,912 L354,897 Z" fill="#fff" stroke="none"/>
<path d="M325.4,898.5 L325.4,912.5" stroke-width="2.4"/><path d="M354,898.5 L354,912.5" stroke-width="1.5"/>
<path d="M325.2,897.5 Q327,893.6 339.6,893.6 Q352.5,893.6 354,897.5" stroke="#999" stroke-width="1.1"/>
<path d="M330.5,895 L330.5,910 M349,895 L349,909" stroke="#bbb" stroke-width="0.8"/>
<path d="M321.2,919 C321.2,908.5 357.7,908.5 357.7,919 L357.7,936 L321.2,947 Z" fill="#fff" stroke="none"/>
<path d="M321.2,946 L321.2,919 C321.2,908.5 357.7,908.5 357.7,919 L357.7,936.5" stroke-width="2"/>
<path d="M275.4,1007.9 L295.4,960.8 L344.7,934.2 L394.9,944.2 L455.8,1055.9 L478.5,1096.8 L460.2,1143.3 L410.4,1169.8 L359.5,1159.9 L340.7,1121.2 Z" fill="#fff" stroke-width="2.6"/>
<path d="M295.4,960.8 L359.5,1072.5" stroke-width="1.8"/>
<path d="M344.7,934.2 L407.1,1048.1" stroke-width="1.3"/>
<path d="M340.7,1121.2 L359.5,1072.5 L407.1,1048.1 L455.8,1055.9" stroke-width="2.0"/>
<ellipse cx="407.6" cy="1104.4" rx="57.6" ry="45.3" transform="rotate(-30 407.6 1104.4)" stroke-width="2.8"/>
<ellipse cx="407.6" cy="1104.4" rx="60.6" ry="48" transform="rotate(-30 407.6 1104.4)" stroke-width="0.8"/>
<ellipse cx="407.6" cy="1104.4" rx="64" ry="51" transform="rotate(-30 407.6 1104.4)" stroke-width="0.8"/>
</g>
</g>
</svg>
</body></html>
